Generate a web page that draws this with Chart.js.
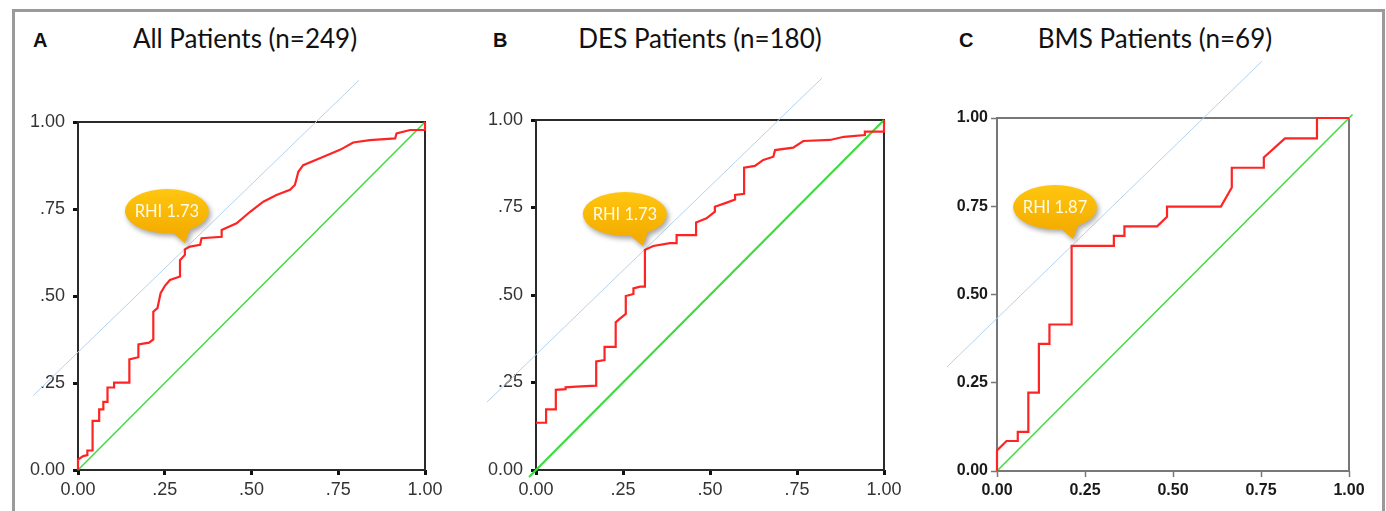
<!DOCTYPE html>
<html>
<head>
<meta charset="utf-8">
<script src="https://cdn.jsdelivr.net/npm/chart.js@4.4.1/dist/chart.umd.min.js"></script>
<style>
  body { margin: 0; width: 1386px; height: 511px; background: #fff; overflow: hidden; position: relative; }
  #frame { position: absolute; left: 12px; top: 9px; width: 1367px; height: 520px; border: 3px solid #9a9a9a; border-bottom: none; }
  .letter { position: absolute; font: bold 20px "Liberation Sans", Arial, sans-serif; line-height: 1; color: #111; }
  .title { position: absolute; width: 400px; text-align: center; font: 26px Lato, sans-serif; line-height: 1; color: #111; }
  canvas { position: absolute; }
</style>
</head>
<body>
<div id="frame"></div>
<div class="letter" id="letterA" style="left:33px;top:30px"></div>
<div class="letter" id="letterB" style="left:493px;top:30px"></div>
<div class="letter" id="letterC" style="left:959px;top:30px"></div>
<div class="title" id="titleA" style="left:45px;top:25px"></div>
<div class="title" id="titleB" style="left:500px;top:25px"></div>
<div class="title" id="titleC" style="left:955px;top:25px"></div>
<canvas id="chartA" width="440" height="451" style="left:15px;top:60px"></canvas>
<canvas id="chartB" width="440" height="451" style="left:475px;top:60px"></canvas>
<canvas id="chartC" width="445" height="451" style="left:935px;top:60px"></canvas>
<script>
// panel texts
const panelLetters = ['A', 'B', 'C'];
const panelTitles = ['All Patients (n=249)', 'DES Patients (n=180)', 'BMS Patients (n=69)'];
const rhiLabels = ['RHI 1.73', 'RHI 1.73', 'RHI 1.87'];

// axis ticks
const tickValues = [0, 0.25, 0.5, 0.75, 1];
const tickLabelsAB = ['0.00', '.25', '.50', '.75', '1.00'];
const tickLabelsC = ['0.00', '0.25', '0.50', '0.75', '1.00'];

// ROC curves, [1 - specificity, sensitivity]
const rocA = [[0,0],[0,0.03],[0.015,0.04],[0.027,0.043],[0.027,0.056],[0.042,0.056],[0.042,0.141],[0.061,0.141],
  [0.061,0.174],[0.073,0.174],[0.073,0.196],[0.085,0.196],[0.085,0.237],[0.104,0.237],[0.104,0.251],[0.148,0.251],
  [0.148,0.318],[0.174,0.324],[0.174,0.361],[0.205,0.366],[0.217,0.375],[0.217,0.455],[0.229,0.465],[0.238,0.508],
  [0.251,0.53],[0.265,0.546],[0.294,0.556],[0.294,0.603],[0.308,0.618],[0.308,0.634],[0.323,0.642],[0.352,0.647],
  [0.356,0.666],[0.414,0.67],[0.414,0.69],[0.457,0.709],[0.496,0.742],[0.534,0.771],[0.572,0.79],[0.611,0.805],
  [0.625,0.819],[0.635,0.857],[0.649,0.876],[0.697,0.896],[0.755,0.92],[0.793,0.941],[0.841,0.948],[0.914,0.953],
  [0.918,0.967],[0.957,0.977],[1,0.977],[1,1]];
const rocB = [[0,0.135],[0.029,0.135],[0.029,0.173],[0.057,0.173],[0.057,0.229],[0.085,0.231],[0.085,0.236],
  [0.116,0.238],[0.173,0.241],[0.173,0.31],[0.197,0.314],[0.197,0.352],[0.229,0.352],[0.229,0.422],[0.242,0.433],
  [0.258,0.446],[0.258,0.497],[0.28,0.503],[0.28,0.519],[0.299,0.524],[0.313,0.524],[0.313,0.629],[0.337,0.64],
  [0.385,0.648],[0.404,0.648],[0.404,0.671],[0.46,0.671],[0.46,0.707],[0.49,0.719],[0.514,0.738],[0.514,0.752],
  [0.548,0.764],[0.572,0.773],[0.572,0.786],[0.598,0.789],[0.598,0.864],[0.629,0.869],[0.653,0.886],[0.682,0.895],
  [0.687,0.914],[0.739,0.921],[0.768,0.94],[0.845,0.943],[0.885,0.952],[0.945,0.957],[0.945,0.967],[1,0.967],[1,1]];
const rocC = [[0,0],[0,0.058],[0.027,0.085],[0.059,0.085],[0.059,0.111],[0.089,0.111],[0.089,0.222],[0.119,0.222],
  [0.119,0.36],[0.149,0.36],[0.149,0.415],[0.212,0.415],[0.212,0.638],[0.332,0.638],[0.332,0.666],[0.362,0.666],
  [0.362,0.693],[0.455,0.693],[0.483,0.72],[0.483,0.749],[0.636,0.749],[0.667,0.803],[0.667,0.859],[0.758,0.859],
  [0.758,0.888],[0.818,0.942],[0.909,0.942],[0.909,1],[1,1]];

// tangent (light blue) lines and reference diagonals
const tangentA = [[-0.13,0.213],[0.81,1.12]];
const tangentB = [[-0.141,0.194],[0.822,1.12]];
const tangentC = [[-0.142,0.295],[0.753,1.161]];
const diagA = [[0,0],[1,1]];
const diagB = [[-0.02,-0.02],[1,1]];
const diagC = [[0,0],[1.01,1.01]];

// cut-off points the callouts point at
const cutoffA = [0.308, 0.652];
const cutoffB = [0.307, 0.64];
const cutoffC = [0.216, 0.657];

const toXY = arr => arr.map(p => ({x: p[0], y: p[1]}));

panelLetters.forEach(l => document.getElementById('letter' + l).textContent = l);
panelTitles.forEach((t, i) => document.getElementById('title' + panelLetters[i]).textContent = t);

// box around the plot area, drawn under the lines
const boxPlugin = {
  id: 'box',
  beforeDatasetsDraw(chart, args, opts) {
    const {ctx, chartArea: a} = chart;
    ctx.save();
    ctx.strokeStyle = opts.color;
    ctx.lineWidth = opts.width;
    ctx.strokeRect(a.left, a.top, a.right - a.left, a.bottom - a.top);
    ctx.restore();
  }
};

// orange speech bubble
const calloutPlugin = {
  id: 'callout',
  afterDatasetsDraw(chart, args, opts) {
    const ctx = chart.ctx;
    const x = chart.scales.x.getPixelForValue(opts.at[0]);
    const y = chart.scales.y.getPixelForValue(opts.at[1]);
    const cx = x - 18, cy = y - 32, rx = 42, ry = 22;
    ctx.save();
    ctx.shadowColor = 'rgba(0,0,0,0.35)';
    ctx.shadowBlur = 5;
    ctx.shadowOffsetX = 2;
    ctx.shadowOffsetY = 3;
    const g = ctx.createLinearGradient(0, cy - ry, 0, cy + ry);
    g.addColorStop(0, '#ffc60f');
    g.addColorStop(1, '#f4ad00');
    ctx.fillStyle = g;
    ctx.beginPath();
    ctx.ellipse(cx, cy, rx, ry, 0, 0, Math.PI * 2);
    ctx.moveTo(cx + 25, cy + ry - 9);
    ctx.lineTo(x, y);
    ctx.lineTo(cx + 4, cy + ry - 2);
    ctx.closePath();
    ctx.fill();
    ctx.shadowColor = 'transparent';
    ctx.fillStyle = '#fffbea';
    ctx.font = '16.5px Lato, sans-serif';
    ctx.textAlign = 'center';
    ctx.textBaseline = 'middle';
    ctx.fillText(opts.text, cx, cy + 1);
    ctx.restore();
  }
};

function makeChart(id, roc, tangent, diag, cutoff, label, labels, look) {
  const font = look.bold
    ? {family: '"Liberation Sans", Arial, sans-serif', size: 16, weight: 'bold'}
    : {family: '"Liberation Sans", Arial, sans-serif', size: 18};
  const axis = (isX) => ({
    type: 'linear',
    min: 0,
    max: 1,
    afterBuildTicks: s => { s.ticks = tickValues.map(v => ({value: v})); },
    afterFit: s => { if (isX) s.height = look.xh; else s.width = look.yw; },
    border: {display: false},
    grid: {display: true, drawOnChartArea: false, drawTicks: true, tickLength: look.tickLen,
      tickWidth: look.tickWidth, tickColor: look.tickColor},
    ticks: {
      color: look.labelColor,
      font: font,
      padding: isX ? look.xPad : look.yPad,
      maxRotation: 0,
      callback: v => labels[tickValues.indexOf(v)]
    }
  });
  return new Chart(document.getElementById(id), {
    type: 'scatter',
    data: {
      datasets: [
        {data: toXY(roc), showLine: true, borderColor: '#ff2424', borderWidth: 2.2, pointRadius: 0, clip: false},
        {data: toXY(diag), showLine: true, borderColor: '#3ddc3d', borderWidth: look.diagWidth, pointRadius: 0, clip: false},
        {data: toXY(tangent), showLine: true, borderColor: '#b4d2ee', borderWidth: 1, pointRadius: 0, clip: false}
      ]
    },
    options: {
      responsive: false,
      devicePixelRatio: 1,
      animation: false,
      events: [],
      layout: {padding: {top: look.top, right: look.right, left: 0, bottom: 0}},
      scales: {x: axis(true), y: axis(false)},
      plugins: {
        legend: {display: false},
        tooltip: {enabled: false},
        box: {color: look.boxColor, width: 2},
        callout: {at: cutoff, text: label}
      }
    },
    plugins: [boxPlugin, calloutPlugin]
  });
}

const lookAB = {bold: false, labelColor: '#333', tickLen: 5, tickWidth: 3, tickColor: '#111',
  boxColor: '#2a2a2a', xPad: 4, yPad: 8};
const lookC = {bold: true, labelColor: '#1a1a1a', tickLen: 6, tickWidth: 1.5, tickColor: '#777',
  boxColor: '#777', xPad: 4, yPad: 3};

makeChart('chartA', rocA, tangentA, diagA, cutoffA, rhiLabels[0], tickLabelsAB,
  Object.assign({}, lookAB, {yw: 63, xh: 41, top: 62, right: 30, diagWidth: 1.5}));
makeChart('chartB', rocB, tangentB, diagB, cutoffB, rhiLabels[1], tickLabelsAB,
  Object.assign({}, lookAB, {yw: 61, xh: 41, top: 60, right: 31, diagWidth: 2.2}));
makeChart('chartC', rocC, tangentC, diagC, cutoffC, rhiLabels[2], tickLabelsC,
  Object.assign({}, lookC, {yw: 62, xh: 40, top: 58, right: 31, diagWidth: 1.5}));
</script>
</body>
</html>
